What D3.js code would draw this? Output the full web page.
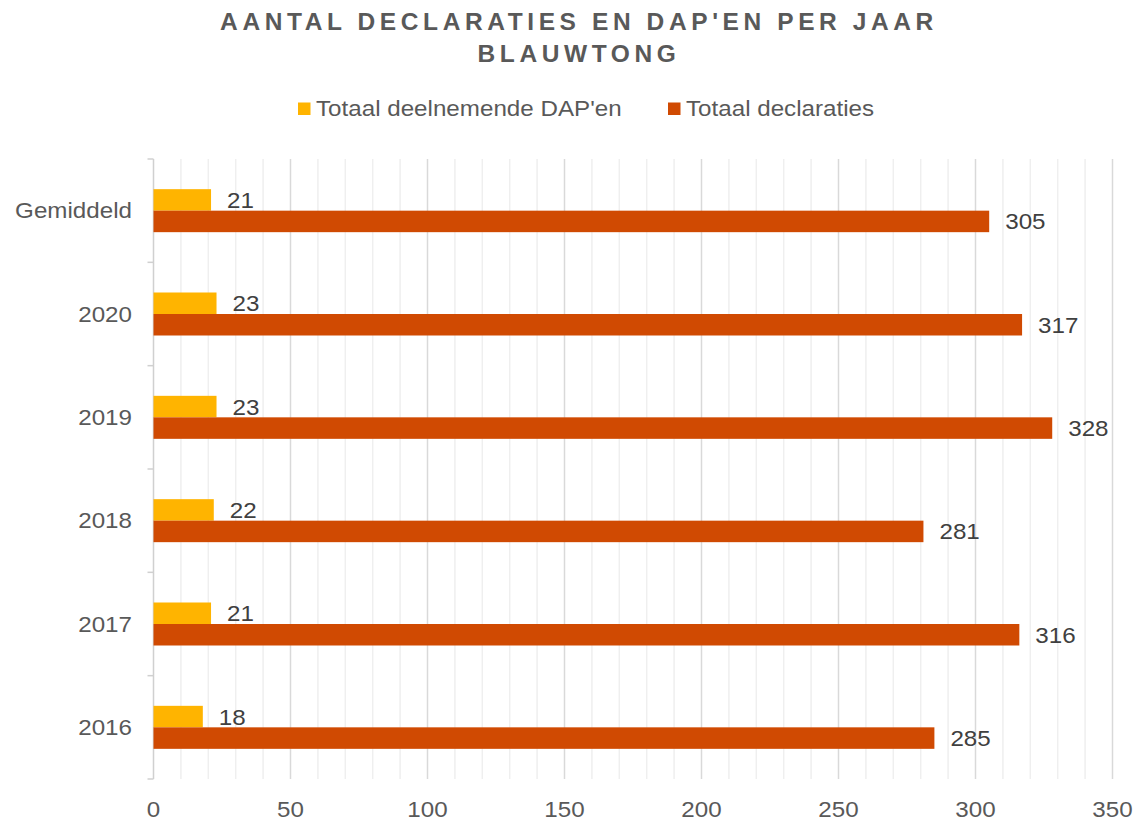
<!DOCTYPE html>
<html><head><meta charset="utf-8">
<script src="https://cdn.jsdelivr.net/npm/d3@7"></script>
<style>body{margin:0;background:#fff;} svg{display:block;font-family:"Liberation Sans",Arial,sans-serif;}</style>
</head><body>
<svg id="c" width="1135" height="819"></svg>
<script>
const categories = ["Gemiddeld","2020","2019","2018","2017","2016"];
const dapValues = [21,23,23,22,21,18];
const declValues = [305,317,328,281,316,285];
const seriesNames = ["Totaal deelnemende DAP'en","Totaal declaraties"];
const xTicks = [0,50,100,150,200,250,300,350];
const titleLines = ["AANTAL DECLARATIES EN DAP'EN PER JAAR","BLAUWTONG"];

const colors = ["#FFB400","#D04A02"];
const svg = d3.select("#c");
const pLeft = 153.5, pRight = 1112.5, pTop = 159, pBottom = 779;
const x = d3.scaleLinear().domain([0,350]).range([pLeft,pRight]);
const y = d3.scaleBand().domain(categories).range([pTop,pBottom]);
const barH = 21.5;
const FS = 22.5, SX = 1.075;

function stext(sel, tx, ty, txt, anchor, fill){
  return sel.append("text").attr("transform",`translate(${tx},${ty}) scale(${SX},1)`)
    .attr("text-anchor",anchor||"start").attr("font-size",FS).attr("fill",fill||"#595959").text(txt);
}

// title
svg.append("g").selectAll("text").data(titleLines).join("text")
  .attr("x",579).attr("y",(d,i)=>30+i*31.5).attr("text-anchor","middle")
  .attr("font-size",24.5).attr("font-weight","bold").attr("fill","#595959")
  .attr("letter-spacing","4.6px").text(d=>d);

// legend
const legX = [298,668];
seriesNames.forEach((s,i)=>{
  svg.append("rect").attr("x",legX[i]).attr("y",102.5).attr("width",12.5).attr("height",12.5).attr("fill",colors[i]);
  stext(svg, legX[i]+18, 116, s);
});

// gridlines
const minor = d3.range(10,351,10).filter(v=>v%50!==0);
svg.append("g").selectAll("line").data(minor).join("line")
  .attr("x1",d=>x(d)).attr("x2",d=>x(d)).attr("y1",pTop).attr("y2",pBottom)
  .attr("stroke","#efefef").attr("stroke-width",1.5);
svg.append("g").selectAll("line").data(xTicks.filter(v=>v>0)).join("line")
  .attr("x1",d=>x(d)).attr("x2",d=>x(d)).attr("y1",pTop).attr("y2",pBottom)
  .attr("stroke","#d9d9d9").attr("stroke-width",1.5);

// y axis line + ticks
svg.append("line").attr("x1",pLeft).attr("x2",pLeft).attr("y1",pTop).attr("y2",pBottom)
  .attr("stroke","#d0d0d0").attr("stroke-width",1.5);
const bounds = categories.map(c=>y(c)).concat([pBottom]);
svg.append("g").selectAll("line").data(bounds).join("line")
  .attr("x1",pLeft-6).attr("x2",pLeft).attr("y1",d=>d).attr("y2",d=>d)
  .attr("stroke","#d0d0d0").attr("stroke-width",1.5);

// bars
const g = svg.append("g");
categories.forEach((c,i)=>{
  const cy = y(c)+y.bandwidth()/2;
  const vals = [dapValues[i],declValues[i]];
  vals.forEach((v,j)=>{
    const by = j===0 ? cy-barH : cy;
    g.append("rect").attr("x",x(0)).attr("y",by).attr("width",x(v)-x(0)).attr("height",barH).attr("fill",colors[j]);
    stext(g, x(v)+16, by+barH/2+8, v, "start", "#404040");
  });
  stext(g, 132, cy+7.5, c, "end");
});

// x tick labels
xTicks.forEach(t=>{ stext(svg, x(t), 817, t, "middle"); });
</script>
</body></html>
